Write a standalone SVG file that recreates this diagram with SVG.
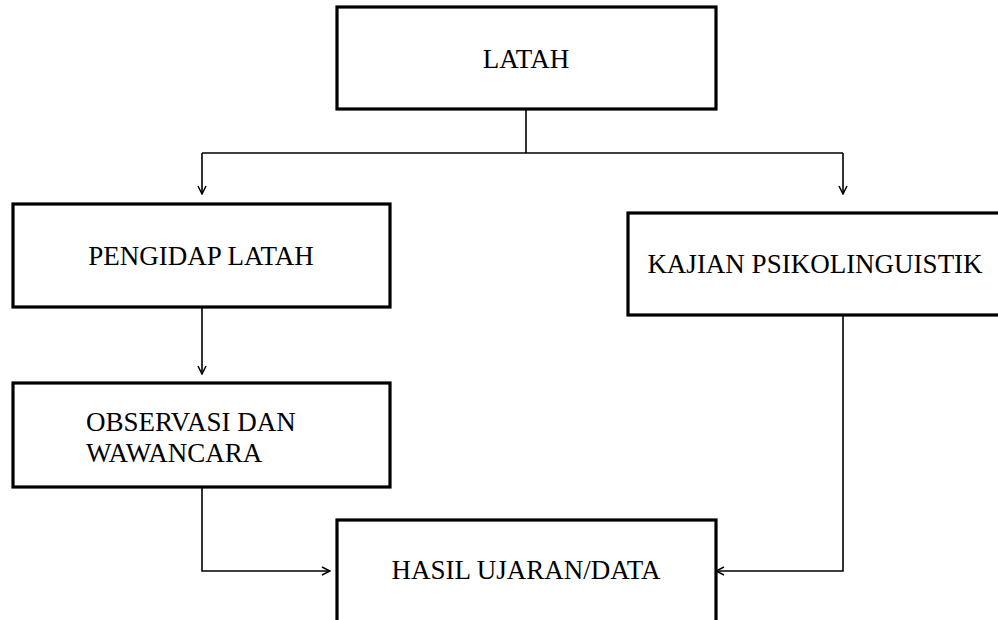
<svg xmlns="http://www.w3.org/2000/svg" width="998" height="620" viewBox="0 0 998 620">
<style>
.box{fill:#fff;stroke:#000;stroke-width:3.2}
.lbl{font-family:"Liberation Serif","Times New Roman",serif;font-size:27px;fill:#000}
.c{fill:none;stroke:#000;stroke-width:1.6}
</style>
<defs>
<marker id="arr" viewBox="0 0 10 10" refX="9" refY="5" markerWidth="10" markerHeight="10" markerUnits="userSpaceOnUse" orient="auto">
<path d="M1,1 L9,5 L1,9" fill="none" stroke="#000" stroke-width="1.5"/>
</marker>
</defs>
<rect width="998" height="620" fill="#fff"/>
<g id="connectors">
<path class="c" d="M526,109 V153"/>
<path class="c" d="M202,153 H843"/>
<path class="c" d="M202,153 V194" marker-end="url(#arr)"/>
<path class="c" d="M843,153 V194" marker-end="url(#arr)"/>
<path class="c" d="M202,307 V374" stroke-width="2.4" marker-end="url(#arr)"/>
<path class="c" d="M202,487 V571 H330" marker-end="url(#arr)"/>
<path class="c" d="M843,315 V571 H716" marker-end="url(#arr)"/>
</g>
<g id="latah">
<rect class="box" x="337" y="7" width="379" height="102"/>
<text class="lbl" x="526" y="68" text-anchor="middle">LATAH</text>
</g>
<g id="pengidap">
<rect class="box" x="13" y="204" width="377" height="103"/>
<text class="lbl" x="201" y="265" text-anchor="middle">PENGIDAP LATAH</text>
</g>
<g id="kajian">
<rect class="box" x="628" y="213" width="380" height="102"/>
<text class="lbl" x="815" y="273" text-anchor="middle">KAJIAN PSIKOLINGUISTIK</text>
</g>
<g id="observasi">
<rect class="box" x="13" y="383" width="377" height="104"/>
<text class="lbl" x="86" y="431">OBSERVASI DAN</text>
<text class="lbl" x="86" y="462">WAWANCARA</text>
</g>
<g id="hasil">
<rect class="box" x="337" y="520" width="379" height="120"/>
<text class="lbl" x="526" y="579" text-anchor="middle">HASIL UJARAN/DATA</text>
</g>
</svg>
